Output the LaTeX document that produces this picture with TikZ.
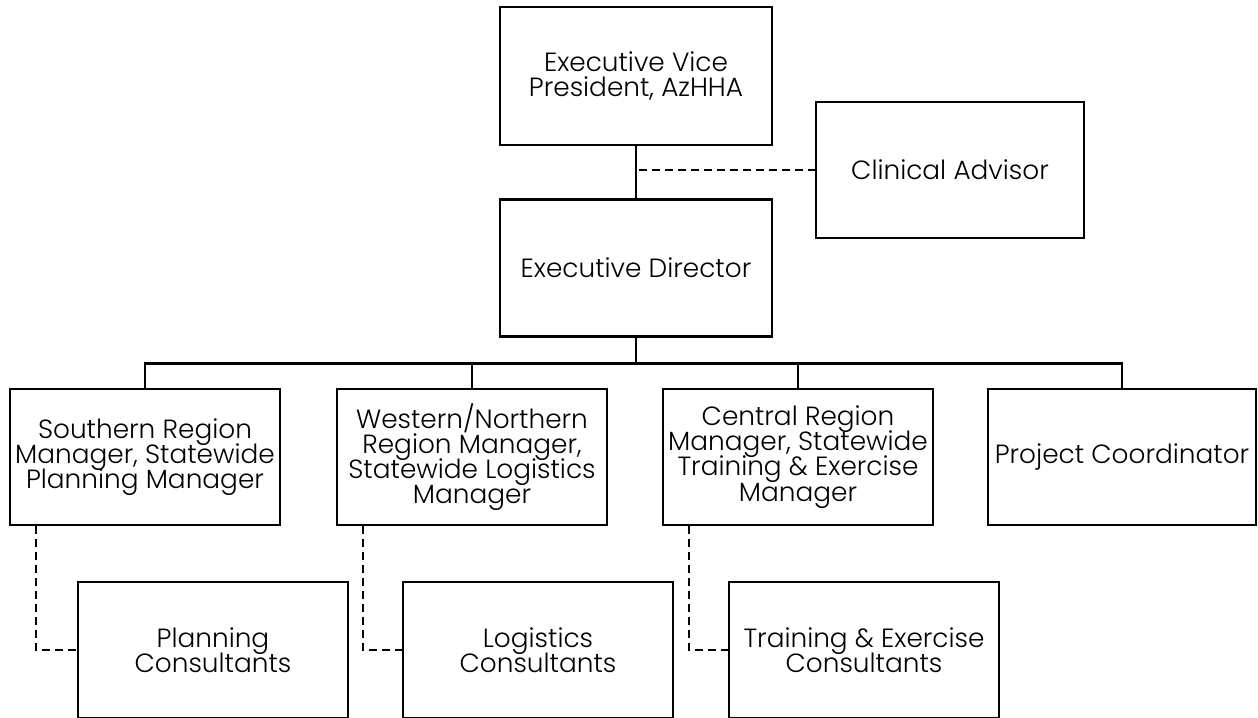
\documentclass[tikz,border=0pt]{standalone}
\usepackage{fontspec}
\setmainfont{Poppins}[UprightFont=* Light]
\usetikzlibrary{calc}
\newcommand\boxfont{\fontsize{15}{14.3}\selectfont\lineskiplimit=-20pt\relax}
\begin{document}
\begin{tikzpicture}[x=0.02cm,y=-0.02cm,
    orgbox/.style={draw,line width=1.5pt,align=center,inner sep=1pt,font=\boxfont},
    topbox/.style={orgbox,minimum width=5.44cm,minimum height=2.74cm},
    rowbox/.style={orgbox,minimum width=5.4cm,minimum height=2.72cm},
    link/.style={line width=1.5pt},
    dotted link/.style={line width=1.2pt,dash pattern=on 0.16cm off 0.1cm}]
    \useasboundingbox (0,0) rectangle (1258,717);
    \node[topbox,minimum height=2.76cm] (vp) at (636,76) {Executive Vice\\President, AzHHA};
    \node[rowbox,minimum width=5.36cm] (adv) at (950,170) {Clinical Advisor};
    \node[topbox] (ed) at (636,268) {Executive Director};
    \node[rowbox] (south) at (145,457) {Southern Region\\Manager, Statewide\\Planning Manager};
    \node[rowbox] (west) at (472,457) {Western/Northern\\Region Manager,\\Statewide Logistics\\Manager};
    \node[rowbox] (central) at (798,457) {Central Region\\Manager, Statewide\\Training \& Exercise\\Manager};
    \node[rowbox,minimum width=5.36cm] (coord) at (1122,457) {Project Coordinator};
    \node[rowbox] (plan) at (213,650) {Planning\\Consultants};
    \node[rowbox] (logi) at (538,650) {Logistics\\Consultants};
    \node[rowbox] (train) at (864,650) {Training \& Exercise\\Consultants};
    % solid reporting lines
    \draw[link] (vp) -- (ed);
    \coordinate (bus) at ($(ed.south)+(0,26)$);
    \draw[link] (ed) -- (bus);
    \foreach \n in {south,west,central,coord}
        \draw[link] (bus) -| (\n.north);
    % dashed lines
    \draw[dotted link] ($(vp.south |- adv.west)+(3,0)$) -- (adv.west);
    \foreach \a/\b in {south/plan,west/logi,central/train}
        \draw[dotted link] ($(\a.south west)+(27,0)$) |- (\b.west);
\end{tikzpicture}
\end{document}
